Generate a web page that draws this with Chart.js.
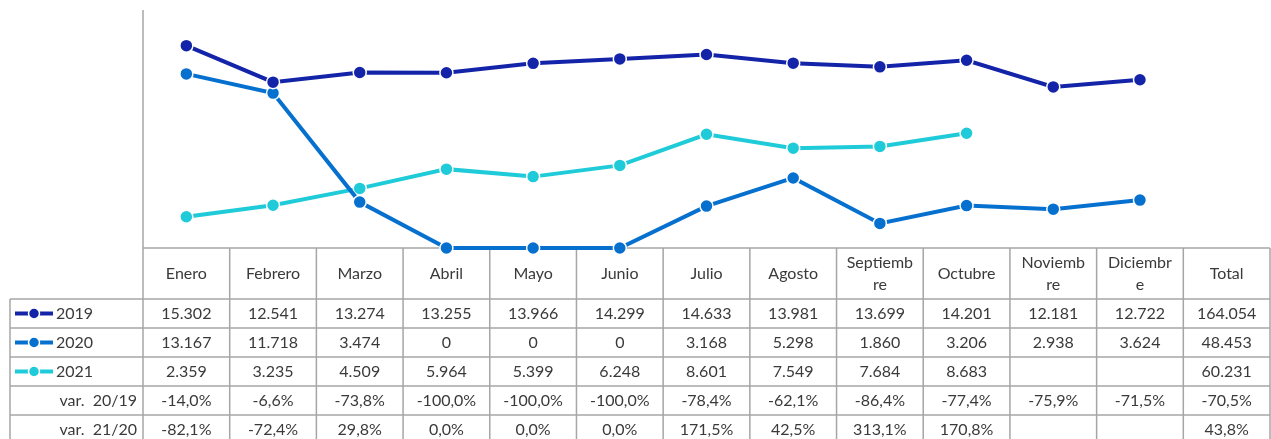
<!DOCTYPE html>
<html>
<head>
<meta charset="utf-8">
<script src="https://cdn.jsdelivr.net/npm/chart.js@4.4.0/dist/chart.umd.min.js"></script>
<style>
html,body{margin:0;background:#fff;overflow:hidden}
#wrap{width:1271px;height:439px}
canvas{display:block}
</style>
</head>
<body>
<div id="wrap"><canvas id="grafico"></canvas></div>
<script>
// meses (el ultimo es la columna Total, sin puntos)
var meses = ['Enero','Febrero','Marzo','Abril','Mayo','Junio','Julio','Agosto',['Septiemb','re'],'Octubre',['Noviemb','re'],['Diciembr','e'],'Total'];

var datos2019 = [15302,12541,13274,13255,13966,14299,14633,13981,13699,14201,12181,12722];
var datos2020 = [13167,11718,3474,0,0,0,3168,5298,1860,3206,2938,3624];
var datos2021 = [2359,3235,4509,5964,5399,6248,8601,7549,7684,8683];
var totales = [164054,48453,60231];

var var2019 = ['-14,0%','-6,6%','-73,8%','-100,0%','-100,0%','-100,0%','-78,4%','-62,1%','-86,4%','-77,4%','-75,9%','-71,5%','-70,5%'];
var var2120 = ['-82,1%','-72,4%','29,8%','0,0%','0,0%','0,0%','171,5%','42,5%','313,1%','170,8%','','','43,8%'];

var colores = ['#1424a8','#0670cf','#1fcbd8'];
var series = ['2019','2020','2021'];

function fmt(n)
{
    if(n === undefined || n === null) return '';
    return String(n).replace(/\B(?=(\d{3})+(?!\d))/g, '.');
}

function serie(nombre, datos, color)
{
    return {
        label: nombre,
        data: datos,
        borderColor: color,
        backgroundColor: color,
        pointBackgroundColor: color,
        pointBorderColor: '#ffffff',
        pointBorderWidth: 1.5,
        pointRadius: 6.5,
        borderWidth: 4,
        tension: 0,
        clip: false
    };
}

var gris = '#a6a6a6';
var texto = '#3a3a3a';
var filaTop = 299;
var filaAlto = 29;

var tabla = {
    id: 'tabla',
    beforeDatasetsDraw: function(chart) {
        var ctx = chart.ctx;
        var x = chart.scales.x;
        var area = chart.chartArea;
        var paso = x.getPixelForValue(1) - x.getPixelForValue(0);
        ctx.save();
        ctx.strokeStyle = gris;
        ctx.lineWidth = 1.5;
        ctx.beginPath();
        // eje vertical y horizontal
        ctx.moveTo(area.left, area.top); ctx.lineTo(area.left, 439);
        ctx.moveTo(area.left, area.bottom); ctx.lineTo(area.right, area.bottom);
        // filas
        for(var r = 0; r < 5; r++)
        {
            var y = filaTop + r * filaAlto;
            ctx.moveTo(10, y); ctx.lineTo(area.right, y);
        }
        ctx.moveTo(10, filaTop); ctx.lineTo(10, 439);
        // columnas
        for(var i = 0; i < meses.length; i++)
        {
            var cx = x.getPixelForValue(i) + paso / 2;
            ctx.moveTo(cx, area.bottom); ctx.lineTo(cx, 439);
        }
        ctx.stroke();
        ctx.restore();
    },
    afterDraw: function(chart) {
        var ctx = chart.ctx;
        var x = chart.scales.x;
        var area = chart.chartArea;
        ctx.save();
        ctx.font = '16px Lato';
        ctx.fillStyle = texto;
        ctx.textAlign = 'center';
        ctx.textBaseline = 'middle';

        var cab = (area.bottom + filaTop) / 2;
        for(var i = 0; i < meses.length; i++)
        {
            var cx = x.getPixelForValue(i);
            if(Array.isArray(meses[i]))
            {
                ctx.fillText(meses[i][0], cx, cab - 11);
                ctx.fillText(meses[i][1], cx, cab + 11);
            }
            else
            {
                ctx.fillText(meses[i], cx, cab);
            }
        }

        var filas = [datos2019, datos2020, datos2021];
        for(var r = 0; r < 3; r++)
        {
            var cy = filaTop + r * filaAlto + filaAlto / 2;
            for(var i = 0; i < 12; i++)
            {
                ctx.fillText(fmt(filas[r][i]), x.getPixelForValue(i), cy);
            }
            ctx.fillText(fmt(totales[r]), x.getPixelForValue(12), cy);

            // leyenda
            ctx.strokeStyle = colores[r];
            ctx.lineWidth = 4;
            ctx.beginPath();
            ctx.moveTo(15, cy); ctx.lineTo(53, cy);
            ctx.stroke();
            ctx.beginPath();
            ctx.arc(34, cy, 5.5, 0, Math.PI * 2);
            ctx.fillStyle = colores[r];
            ctx.fill();
            ctx.lineWidth = 1.5;
            ctx.strokeStyle = '#ffffff';
            ctx.stroke();
            ctx.fillStyle = texto;
            ctx.textAlign = 'left';
            ctx.fillText(series[r], 56, cy);
            ctx.textAlign = 'center';
        }

        var vars = [var2019, var2120];
        var nombres = ['var.  20/19', 'var.  21/20'];
        for(var r = 0; r < 2; r++)
        {
            var cy = filaTop + (r + 3) * filaAlto + filaAlto / 2;
            for(var i = 0; i < vars[r].length; i++)
            {
                ctx.fillText(vars[r][i], x.getPixelForValue(i), cy);
            }
            ctx.textAlign = 'right';
            ctx.fillText(nombres[r], 137, cy);
            ctx.textAlign = 'center';
        }
        ctx.restore();
    }
};

var chart = new Chart(document.getElementById('grafico'), {
    type: 'line',
    data: {
        labels: meses,
        datasets: [
            serie('2019', datos2019, colores[0]),
            serie('2020', datos2020, colores[1]),
            serie('2021', datos2021, colores[2])
        ]
    },
    options: {
        responsive: true,
        maintainAspectRatio: false,
        animation: false,
        layout: { autoPadding: false, padding: { left: 143, right: 1, top: 10, bottom: 191 } },
        plugins: { legend: { display: false }, tooltip: { enabled: false } },
        scales: {
            x: { display: false, offset: true },
            y: { display: false, min: 0, max: 18000 }
        }
    },
    plugins: [tabla]
});
</script>
</body>
</html>
